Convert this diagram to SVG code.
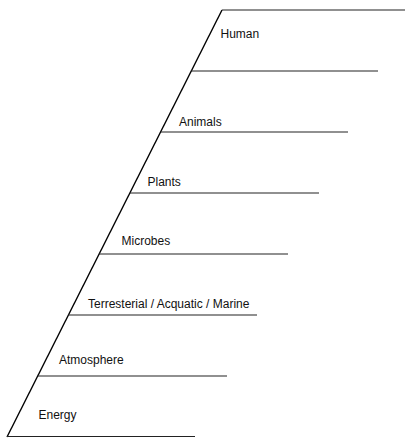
<svg xmlns="http://www.w3.org/2000/svg" width="405" height="439" viewBox="0 0 405 439">
  <style>
    .bg { fill: #ffffff; }
    .spine { stroke: #000000; stroke-width: 1.4; fill: none; }
    .shelf { stroke: #222222; stroke-width: 1.2; fill: none; }
    .label { font-family: "Liberation Sans", Arial, sans-serif; font-size: 12px; fill: #111111; }
  </style>
  <rect class="bg" x="0" y="0" width="405" height="439"/>
  <!-- Slanted backbone and horizontal tiers -->
  <g id="connectors">
    <line class="spine" x1="222" y1="10" x2="7" y2="437"/>
    <line class="shelf" x1="222" y1="10" x2="405" y2="10"/>
    <line class="shelf" x1="191" y1="71" x2="378" y2="71"/>
    <line class="shelf" x1="161" y1="132" x2="348" y2="132"/>
    <line class="shelf" x1="130" y1="193" x2="319" y2="193"/>
    <line class="shelf" x1="99" y1="254" x2="288" y2="254"/>
    <line class="shelf" x1="68" y1="315" x2="257" y2="315"/>
    <line class="shelf" x1="38" y1="376" x2="227" y2="376"/>
    <line class="shelf" x1="7" y1="436.5" x2="195" y2="436.5"/>
  </g>
  <g id="human"><text class="label" x="220.5" y="37.5">Human</text></g>
  <g id="animals"><text class="label" x="179" y="126">Animals</text></g>
  <g id="plants"><text class="label" x="147.5" y="186">Plants</text></g>
  <g id="microbes"><text class="label" x="121.5" y="245">Microbes</text></g>
  <g id="terrestrial"><text class="label" x="88" y="308">Terresterial / Acquatic / Marine</text></g>
  <g id="atmosphere"><text class="label" x="59" y="364">Atmosphere</text></g>
  <g id="energy"><text class="label" x="38.5" y="419">Energy</text></g>
</svg>
